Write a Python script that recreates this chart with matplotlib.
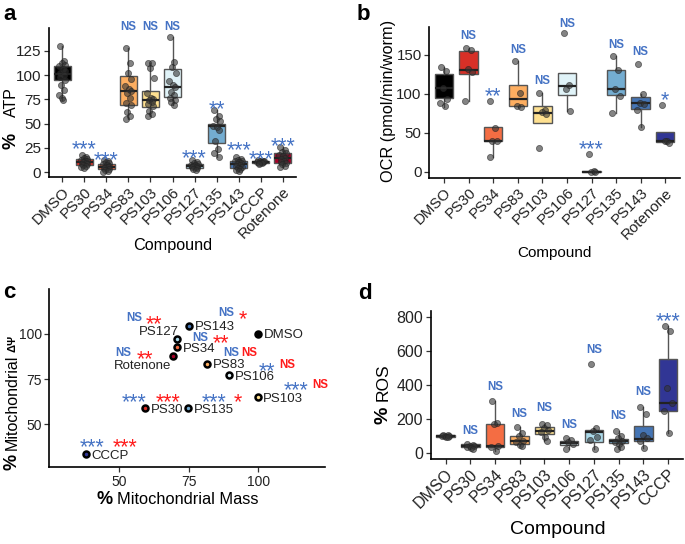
import matplotlib
matplotlib.use("Agg")
import matplotlib.pyplot as plt
from matplotlib.transforms import offset_copy

plt.rcParams['font.family'] = ['Liberation Sans', 'DejaVu Sans']

BLUE = '#4472C4'
RED = '#FF1A1A'
TXT = '#222222'

# ---------------- Panel a: ATP ----------------
a_cats = ['DMSO', 'PS30', 'PS34', 'PS83', 'PS103', 'PS106', 'PS127', 'PS135', 'PS143', 'CCCP', 'Rotenone']
a_colors = ['#000000', '#D73027', '#F46D43', '#FDAE61', '#FEE090', '#E0F3F8', '#ABD9E9', '#74ADD1', '#4575B4', '#313695', '#A50026']
a_q1 = [95, 7, 3, 69, 67, 78, 4, 30, 4, 9, 9]
a_med = [101, 10, 5.5, 84, 74, 88, 6, 48, 8, 10, 15]
a_q3 = [109, 14, 8.5, 99.5, 84, 106, 8, 50, 12, 11.5, 20]
a_lo = [74, 4, 0, 55, 58, 69, 2, 16, 1, 8, 5]
a_hi = [130, 18, 12.5, 128, 113, 139, 13, 64, 16, 13, 26]
a_points = [
    [130, 115, 113, 111, 109, 106, 104, 102, 100, 98, 95, 90, 85, 80, 77, 74],
    [18, 16, 15, 14, 13, 12, 11, 10, 9, 8, 8, 7, 6, 5, 4],
    [12.5, 11, 10, 9, 8, 7, 6, 5, 5, 4, 3, 2, 1, 0],
    [128, 113, 102, 96, 89, 86, 84, 82, 77, 71, 69, 62, 58, 55],
    [113, 113, 107, 97, 82, 77, 75, 74, 72, 70, 68, 63, 60, 58],
    [139, 114, 108, 102, 94, 90, 88, 83, 80, 77, 74, 72, 69],
    [13, 10, 9, 8, 7, 7, 6, 6, 5, 5, 4, 3, 2],
    [64, 58, 55, 53, 48, 47, 43, 32, 24, 19.5, 16],
    [16, 14, 13, 12, 11, 10, 9, 8, 7, 6, 5, 4, 3, 2, 1],
    [13, 12, 11, 11, 10, 10, 10, 9, 9, 8],
    [26, 23, 21, 20, 18, 17, 15, 14, 12, 10, 9, 8, 6, 5],
]
a_sig = ['', '***', '***', 'NS', 'NS', 'NS', '***', '**', '***', '***', '***']
a_sig_y = [0, 30, 19.6, 151, 151, 151, 21, 72, 29, 20, 34]
a_yticks = [0, 25, 50, 75, 100, 125]

# ---------------- Panel b: OCR ----------------
b_cats = ['DMSO', 'PS30', 'PS34', 'PS83', 'PS103', 'PS106', 'PS127', 'PS135', 'PS143', 'Rotenone']
b_colors = ['#000000', '#D73027', '#F46D43', '#FDAE61', '#FEE090', '#E0F3F8', '#ABD9E9', '#74ADD1', '#4575B4', '#313695']
b_q1 = [95, 126, 39, 84, 63, 99, 0, 98, 80.5, 38.5]
b_med = [108, 131, 40, 93, 76, 109.5, 0, 106.5, 88, 40]
b_q3 = [125, 155.5, 57, 111, 84, 127, 0.5, 131, 96.5, 51]
b_lo = [83, 90.5, 18.5, 83, 63, 78.5, 0, 75, 57, 37.5]
b_hi = [134, 158.5, 57, 142, 100.5, 127, 0.5, 148.5, 100, 51]
b_points = [
    [134, 130, 108, 93, 88, 84],
    [158.5, 156, 132, 128, 90.5],
    [90.5, 56.5, 39.5, 38.8, 18.5],
    [142, 101, 85, 83],
    [100.5, 79, 76.5, 74, 30],
    [178, 111.5, 106, 78.5],
    [22.5, 0.5, 0, 0],
    [148.5, 131, 106, 97.5, 75],
    [138, 100, 88.5, 87, 79, 57],
    [85.5, 40, 39.5, 37.5],
]
b_sig = ['', 'NS', '**', 'NS', 'NS', 'NS', '***', 'NS', 'NS', '*']
b_sig_y = [0, 175.7, 105, 157.7, 118, 191.5, 37.3, 163.7, 155.5, 100]
b_yticks = [0, 50, 100, 150]

# ---------------- Panel c: mass vs membrane potential ----------------
c_names = ['DMSO', 'PS143', 'PS127', 'PS34', 'Rotenone', 'PS83', 'PS106', 'PS103', 'PS30', 'PS135', 'CCCP']
c_mass = [100, 75.1, 70.8, 70.8, 69.5, 81.6, 89.4, 99.8, 59.3, 74.7, 38.0]
c_dpsi = [100.2, 104.6, 97.0, 92.6, 87.8, 83.5, 77.2, 64.8, 58.7, 58.7, 33.3]
c_colors = ['#000000', '#4575B4', '#ABD9E9', '#F46D43', '#A50026', '#FDAE61', '#E0F3F8', '#FEE090', '#D73027', '#74ADD1', '#313695']
c_sig_mass = ['NS', 'NS', 'NS', 'NS', 'NS', '**', '***', '***', '***', '***']
c_sig_dpsi = ['*', '**', '**', '**', 'NS', 'NS', 'NS', '***', '*', '***']
c_sig_xb = [88.3, 55.5, 79.1, 51.6, 90.2, 103.0, 113.4, 55.5, 84.2, 40.2]
c_sig_xr = [94.6, 62.7, 86.5, 59.3, 96.8, 110.2, 122.1, 67.5, 92.8, 52.2]
c_sig_y = [112.1, 109.3, 98.5, 89.8, 90.2, 83.2, 72.2, 65.7, 65.7, 41.1]
c_ticks = [50, 75, 100]

# ---------------- Panel d: ROS ----------------
d_cats = ['DMSO', 'PS30', 'PS34', 'PS83', 'PS103', 'PS106', 'PS127', 'PS135', 'PS143', 'CCCP']
d_colors = ['#000000', '#D73027', '#F46D43', '#FDAE61', '#FEE090', '#E0F3F8', '#ABD9E9', '#74ADD1', '#4575B4', '#313695']
d_q1 = [98, 35, 38, 57, 111, 49, 64, 58, 72, 248]
d_med = [102, 45, 45, 74, 131, 62, 127, 72, 82, 297]
d_q3 = [106, 52, 173, 103, 152, 72, 135, 82, 160, 552]
d_lo = [96, 27, 12, 43, 72, 25, 25, 25, 29, 117]
d_hi = [108, 55, 306, 156, 170, 88, 150, 131, 273, 743]
d_points = [
    [108, 106, 104, 102, 100, 98, 96],
    [55, 48, 45, 40, 35, 30, 27],
    [306, 180, 172, 45, 38, 12],
    [156, 117, 103, 74, 68, 49, 43],
    [170, 166, 150, 137, 123, 98, 72],
    [88, 78, 64, 53, 25],
    [521, 150, 131, 98, 78, 25],
    [131, 103, 88, 72, 64, 53, 39, 25],
    [273, 228, 107, 92, 72, 29],
    [743, 716, 380, 296, 248, 117],
]
d_sig = ['', 'NS', 'NS', 'NS', 'NS', 'NS', 'NS', 'NS', 'NS', '***']
d_sig_y = [0, 140, 394, 238, 273, 171, 609, 224, 367, 810]
d_yticks = [0, 200, 400, 600, 800]

# deterministic horizontal spread of the dots (style only)
JIT = [-0.12, 0.09, -0.03, 0.14, -0.15, 0.03, 0.11, -0.08, 0.06, -0.1, 0.13, -0.05, 0.08, -0.13, 0.0, 0.05]

W, H = 685, 544
fig = plt.figure(figsize=(6.85, 5.44), dpi=100)


def px_axes(l, t, r, b):
    return fig.add_axes([l / W, 1 - b / H, (r - l) / W, (b - t) / H])


def style(ax, fs):
    for s in ['top', 'right']:
        ax.spines[s].set_visible(False)
    for s in ['left', 'bottom']:
        ax.spines[s].set_linewidth(1.2)
        ax.spines[s].set_color('black')
    ax.tick_params(length=3.5, width=0.9, color='#333333', labelsize=fs, labelcolor=TXT, pad=2)


def sig_text(ax, x, y, s, color, fs_star=15.5, fs_ns=8.3):
    if '*' in s:
        fs, off, w = fs_star, 0.586 * fs_star, 'normal'
    else:
        fs, off, w = fs_ns, 0.358 * fs_ns, 'bold'
    tr = offset_copy(ax.transData, fig=fig, x=0, y=-off, units='points')
    ax.text(x, y, s, transform=tr, ha='center', va='baseline', fontsize=fs,
            color=color, fontweight=w, clip_on=False, zorder=6)


def boxpanel(ax, cats, colors, q1, med, q3, lo, hi, pts, sig, sigy, ylim, yticks, fs):
    stats = []
    for i in range(len(cats)):
        stats.append({'q1': q1[i], 'med': med[i], 'q3': q3[i], 'whislo': lo[i], 'whishi': hi[i], 'fliers': []})
    bp = ax.bxp(stats, positions=list(range(len(cats))), widths=0.75, patch_artist=True,
                showcaps=False, showfliers=False,
                boxprops=dict(edgecolor='#555555', linewidth=1.0),
                whiskerprops=dict(color='#555555', linewidth=1.0),
                medianprops=dict(color='#222222', linewidth=1.6))
    for patch, c in zip(bp['boxes'], colors):
        patch.set_facecolor(c)
    for i, p in enumerate(pts):
        xs = [i + JIT[k % len(JIT)] for k in range(len(p))]
        ax.plot(xs, p, 'o', color='#333333', alpha=0.6, ms=4.4, mec='#222222', mew=0.6, zorder=5)
    for i, s in enumerate(sig):
        if s:
            sig_text(ax, i, sigy[i], s, BLUE)
    ax.set_xlim(-0.6, len(cats) - 0.4)
    ax.set_ylim(*ylim)
    ax.set_yticks(yticks)
    ax.set_xticks(range(len(cats)))
    ax.set_xticklabels(cats, rotation=45, ha='right', va='top', rotation_mode='anchor')
    style(ax, fs)


# panel a
axa = px_axes(49, 28, 296, 177)
boxpanel(axa, a_cats, a_colors, a_q1, a_med, a_q3, a_lo, a_hi, a_points, a_sig, a_sig_y, (-5, 148.7), a_yticks, 11)

# panel b
axb = px_axes(429.3, 26.7, 680, 178)
boxpanel(axb, b_cats, b_colors, b_q1, b_med, b_q3, b_lo, b_hi, b_points, b_sig, b_sig_y, (-8.1, 186.3), b_yticks, 10.8)

# panel d
axd = px_axes(430.7, 310.7, 683, 459.3)
boxpanel(axd, d_cats, d_colors, d_q1, d_med, d_q3, d_lo, d_hi, d_points, d_sig, d_sig_y, (-35, 835), d_yticks, 11.5)

# panel c
axc = px_axes(49.3, 289.3, 325, 467.3)
for i in range(len(c_names)):
    axc.plot(c_mass[i], c_dpsi[i], 'o', ms=4.3, mfc=c_colors[i], mec='black', mew=1.8, zorder=4)
lab_off = {'PS127': (1.7, 6.7, 'right'), 'Rotenone': (-22.5, -6.0, 'center')}
for i, n in enumerate(c_names):
    dx, dy, ha = lab_off.get(n, (4.0, 0, 'left'))
    tr = offset_copy(axc.transData, fig=fig, x=dx, y=dy - 0.358 * 9.5, units='points')
    axc.text(c_mass[i], c_dpsi[i], n, transform=tr, ha=ha, va='baseline', fontsize=9.5, color=TXT, zorder=5)
for i in range(len(c_sig_y)):
    sig_text(axc, c_sig_xb[i], c_sig_y[i], c_sig_mass[i], BLUE)
    sig_text(axc, c_sig_xr[i], c_sig_y[i], c_sig_dpsi[i], RED)
axc.set_xlim(25, 123.9)
axc.set_ylim(26, 124.8)
axc.set_xticks(c_ticks)
axc.set_yticks(c_ticks)
style(axc, 10)


def ftext(x, y, s, fs, rot=0, bold=False, ha='center', va='center'):
    fig.text(x / W, 1 - y / H, s, fontsize=fs, rotation=rot, ha=ha, va=va,
             fontweight='bold' if bold else 'normal', color='black')


# axis titles
ftext(173, 245, 'Compound', 11.7)
ftext(554, 253, 'Compound', 11)
ftext(558, 530, 'Compound', 14)
ftext(104.5, 499, '%', 13, bold=True)
ftext(187.5, 499, 'Mitochondrial Mass', 11.8)

ftext(11, 141, '%', 13, rot=90, bold=True)
ftext(11, 102.5, 'ATP', 11.5, rot=90)
ftext(388, 101, 'OCR (pmol/min/worm)', 11.7, rot=90)
ftext(12, 462, '%', 13, rot=90, bold=True)
ftext(12, 402.5, 'Mitochondrial', 11.5, rot=90)
ftext(12, 343.5, 'ΔΨ', 8, rot=90, bold=True)
ftext(383, 415, '%', 14, rot=90, bold=True)
ftext(383, 382, 'ROS', 12.5, rot=90)

# panel letters
ftext(3, 20, 'a', 16, bold=True, ha='left', va='baseline')
ftext(357, 20, 'b', 16, bold=True, ha='left', va='baseline')
ftext(3, 298, 'c', 16, bold=True, ha='left', va='baseline')
ftext(358, 299, 'd', 16, bold=True, ha='left', va='baseline')

fig.savefig('out.png', dpi=100)
